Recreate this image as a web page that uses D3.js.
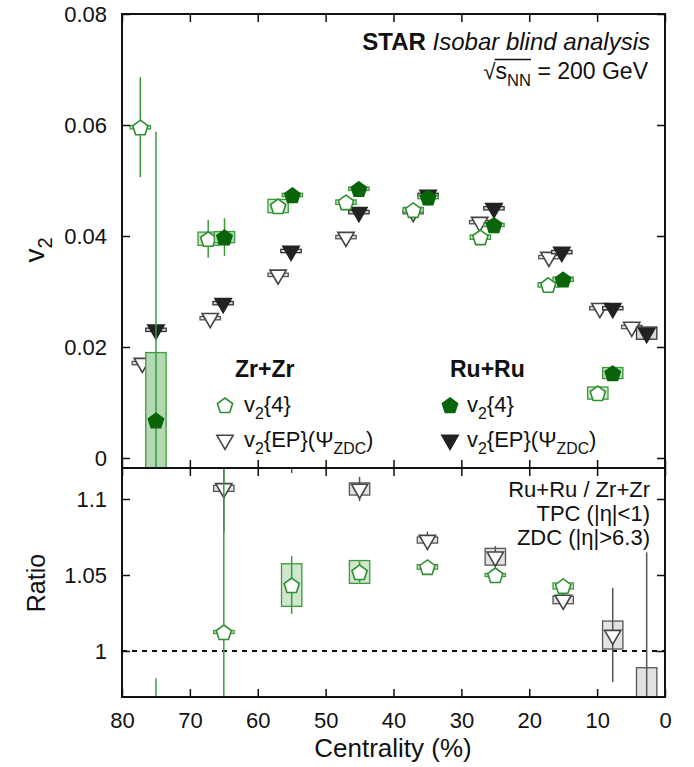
<!DOCTYPE html>
<html>
<head>
<meta charset="utf-8">
<script src="https://cdn.jsdelivr.net/npm/d3@7"></script>
<style>
  body { margin: 0; background: #fff; }
  text { font-family: "Liberation Sans", Arial, sans-serif; fill: #111; }
</style>
</head>
<body>
<div id="chart"></div>
<script>
// ---- data ----
// Zr+Zr v2{4}
const zrV4Cent = [77.3, 67.3, 57.0, 47.0, 37.1, 27.2, 17.2, 9.9];
const zrV4Val  = [0.0596, 0.0395, 0.0454, 0.0461, 0.0447, 0.0398, 0.0312, 0.0117];
const zrV4Stat = [0.0090, 0.0034, 0.0005, 0.0004, 0.0003, 0.0003, 0.0003, 0.0003];
const zrV4Sys  = [0.0003, 0.0012, 0.0012, 0.0004, 0.0004, 0.0004, 0.0004, 0.0011];
// Ru+Ru v2{4}
const ruV4Cent = [75.0, 64.9, 54.9, 45.1, 34.9, 25.2, 15.0, 7.7];
const ruV4Val  = [0.0068, 0.0398, 0.0474, 0.0485, 0.0470, 0.0420, 0.0322, 0.0153];
const ruV4Stat = [0.0520, 0.0034, 0.0004, 0.0003, 0.0003, 0.0003, 0.0003, 0.0003];
const ruV4Sys  = [0.0122, 0.0010, 0.0003, 0.0003, 0.0003, 0.0003, 0.0004, 0.0010];
// Zr+Zr v2{EP}(Psi_ZDC)
const zrEPCent = [77.0, 67.0, 57.0, 47.0, 37.1, 27.3, 17.1, 9.6, 4.9];
const zrEPVal  = [0.0171, 0.0252, 0.0330, 0.0398, 0.0443, 0.0425, 0.0362, 0.0270, 0.0236];
const zrEPStat = [0.0002, 0.0002, 0.0002, 0.0002, 0.0002, 0.0003, 0.0003, 0.0003, 0.0006];
const zrEPSys  = [0.0003, 0.0003, 0.0003, 0.0003, 0.0003, 0.0003, 0.0003, 0.0003, 0.0003];
// Ru+Ru v2{EP}(Psi_ZDC)
const ruEPCent = [75.0, 65.1, 55.1, 45.1, 34.9, 25.2, 15.2, 7.7, 2.7];
const ruEPVal  = [0.0231, 0.0279, 0.0373, 0.0443, 0.0474, 0.0450, 0.0371, 0.0270, 0.0225];
const ruEPStat = [0.0002, 0.0002, 0.0002, 0.0002, 0.0002, 0.0003, 0.0003, 0.0003, 0.0004];
const ruEPSys  = [0.0003, 0.0003, 0.0003, 0.0003, 0.0003, 0.0003, 0.0003, 0.0003, 0.0011];
// ratio Ru+Ru / Zr+Zr
const ratV4Cent = [75, 65, 55, 45, 35, 25, 15];
const ratV4Val  = [0.114, 1.0125, 1.0434, 1.052, 1.0553, 1.050, 1.0428];
const ratV4Stat = [0.868, 0.20, 0.019, 0.007, 0.003, 0.002, 0.002];
const ratV4Sys  = [0.0, 0.001, 0.014, 0.0075, 0.0015, 0.001, 0.002];
const ratEPCent = [75, 65, 55, 45, 35, 25, 15, 7.7, 2.7];
const ratEPVal  = [1.35, 1.107, 1.13, 1.1066, 1.073, 1.062, 1.0336, 1.0105, 0.955];
const ratEPStat = [0.05, 0.029, 0.013, 0.008, 0.0055, 0.007, 0.006, 0.031, 0.11];
const ratEPSys  = [0.002, 0.002, 0.002, 0.004, 0.002, 0.0055, 0.0025, 0.0092, 0.034];

// axes
const xTicks = [80, 70, 60, 50, 40, 30, 20, 10, 0];
const topTicks = [0, 0.02, 0.04, 0.06, 0.08];
const topTickLabels = ["0", "0.02", "0.04", "0.06", "0.08"];
const botTicks = [1, 1.05, 1.1];
const botTickLabels = ["1", "1.05", "1.1"];

const W = 694, H = 767;
const L = 122, R = 665, T = 14, MID = 468, B = 697;
const BOXW = 1.5; // half-width of systematic boxes, in % centrality

const svg = d3.select("#chart").append("svg")
    .attr("width", W).attr("height", H);

const x = d3.scaleLinear().domain([80, 0]).range([L, R]);
const yTop = d3.scaleLinear().domain([0, 0.08]).range([458, T]);
const yBot = d3.scaleLinear().domain([1, 1.1]).range([651, 499]);

// clip paths for the two panels
const defs = svg.append("defs");
defs.append("clipPath").attr("id", "clipTop")
    .append("rect").attr("x", L).attr("y", T).attr("width", R - L).attr("height", MID - T);
defs.append("clipPath").attr("id", "clipBot")
    .append("rect").attr("x", L).attr("y", MID).attr("width", R - L).attr("height", B - MID);

// marker shapes
function pentagon(r) {
    const pts = d3.range(5).map(k => {
        const a = -Math.PI / 2 + k * 2 * Math.PI / 5;
        return [r * Math.cos(a), r * Math.sin(a) + 1];
    });
    return "M" + pts.map(p => p.join(",")).join("L") + "Z";
}
const triDown = d3.symbol().type(d3.symbolTriangle).size(115)();

const styles = {
    zrV4: { shape: "pent", fill: "#fff", stroke: "#2f8f2f", bar: "#3d9a3d", boxFill: "#cfe6cf", boxStroke: "#3d9a3d" },
    ruV4: { shape: "pent", fill: "#0a640a", stroke: "#0a640a", bar: "#3d9a3d", boxFill: "#b3d9b3", boxStroke: "#3d9a3d" },
    zrEP: { shape: "tri", fill: "#fff", stroke: "#444", bar: "#555", boxFill: "#e2e2e2", boxStroke: "#555" },
    ruEP: { shape: "tri", fill: "#222", stroke: "#222", bar: "#333", boxFill: "#d8d8d8", boxStroke: "#333" }
};

function marker(g, st, cx, cy) {
    if (st.shape === "pent") {
        g.append("path").attr("d", pentagon(8))
            .attr("transform", `translate(${cx},${cy})`)
            .attr("fill", st.fill).attr("stroke", st.stroke).attr("stroke-width", 1.6);
    } else {
        g.append("path").attr("d", triDown)
            .attr("transform", `translate(${cx},${cy}) rotate(180)`)
            .attr("fill", st.fill).attr("stroke", st.stroke).attr("stroke-width", 1.6);
    }
}

function drawSeries(layer, cent, val, stat, sys, y, st) {
    const g = layer.append("g");
    cent.forEach((c, i) => {
        const s = sys[i];
        if (s > 0) {
            g.append("rect")
                .attr("x", x(c + BOXW)).attr("width", x(c - BOXW) - x(c + BOXW))
                .attr("y", y(val[i] + s)).attr("height", Math.max(y(val[i] - s) - y(val[i] + s), 1))
                .attr("fill", st.boxFill).attr("stroke", st.boxStroke).attr("stroke-width", 1.3);
        }
        g.append("line")
            .attr("x1", x(c)).attr("x2", x(c))
            .attr("y1", y(val[i] - stat[i])).attr("y2", y(val[i] + stat[i]))
            .attr("stroke", st.bar).attr("stroke-width", 1.5);
    });
    cent.forEach((c, i) => marker(g, st, x(c), y(val[i])));
}

// ---- top panel ----
const topLayer = svg.append("g").attr("clip-path", "url(#clipTop)");
drawSeries(topLayer, zrEPCent, zrEPVal, zrEPStat, zrEPSys, yTop, styles.zrEP);
drawSeries(topLayer, ruEPCent, ruEPVal, ruEPStat, ruEPSys, yTop, styles.ruEP);
drawSeries(topLayer, zrV4Cent, zrV4Val, zrV4Stat, zrV4Sys, yTop, styles.zrV4);
drawSeries(topLayer, ruV4Cent, ruV4Val, ruV4Stat, ruV4Sys, yTop, styles.ruV4);

// ---- bottom panel ----
const botLayer = svg.append("g").attr("clip-path", "url(#clipBot)");
botLayer.append("line")
    .attr("x1", L).attr("x2", R).attr("y1", yBot(1)).attr("y2", yBot(1))
    .attr("stroke", "#111").attr("stroke-width", 2).attr("stroke-dasharray", "5,5");
drawSeries(botLayer, ratEPCent, ratEPVal, ratEPStat, ratEPSys, yBot, styles.zrEP);
drawSeries(botLayer, ratV4Cent, ratV4Val, ratV4Stat, ratV4Sys, yBot, styles.zrV4);

// ---- axes ----
function ticksOnly(axis) {
    return g => {
        g.call(axis);
        g.select(".domain").remove();
        g.selectAll(".tick line").attr("stroke", "#111").attr("stroke-width", 1.5);
    };
}
function styleLabels(g) {
    g.selectAll(".tick text").style("font-size", "22px").attr("fill", "#111");
}

svg.append("g").attr("transform", `translate(${L},0)`)
    .call(ticksOnly(d3.axisLeft(yTop).tickValues(topTicks).tickSize(-8).tickPadding(15)
        .tickFormat((d, i) => topTickLabels[i])))
    .call(styleLabels);
svg.append("g").attr("transform", `translate(${R},0)`)
    .call(ticksOnly(d3.axisRight(yTop).tickValues(topTicks).tickSize(-8).tickFormat("")));
svg.append("g").attr("transform", `translate(0,${T})`)
    .call(ticksOnly(d3.axisTop(x).tickValues(xTicks).tickSize(-8).tickFormat("")));
svg.append("g").attr("transform", `translate(0,${MID})`)
    .call(ticksOnly(d3.axisBottom(x).tickValues(xTicks).tickSize(-8).tickFormat("")));
svg.append("g").attr("transform", `translate(0,${MID})`)
    .call(ticksOnly(d3.axisTop(x).tickValues(xTicks).tickSize(-8).tickFormat("")));

svg.append("g").attr("transform", `translate(${L},0)`)
    .call(ticksOnly(d3.axisLeft(yBot).tickValues(botTicks).tickSize(-8).tickPadding(15)
        .tickFormat((d, i) => botTickLabels[i])))
    .call(styleLabels);
svg.append("g").attr("transform", `translate(${R},0)`)
    .call(ticksOnly(d3.axisRight(yBot).tickValues(botTicks).tickSize(-8).tickFormat("")));
svg.append("g").attr("transform", `translate(0,${B})`)
    .call(ticksOnly(d3.axisBottom(x).tickValues(xTicks).tickSize(-8).tickPadding(15)
        .tickFormat(d => d)))
    .call(styleLabels);

// frames
svg.append("rect").attr("x", L).attr("y", T).attr("width", R - L).attr("height", B - T)
    .attr("fill", "none").attr("stroke", "#111").attr("stroke-width", 2);
svg.append("line").attr("x1", L).attr("x2", R).attr("y1", MID).attr("y2", MID)
    .attr("stroke", "#111").attr("stroke-width", 2);

// ---- text ----
function subText(parent, parts, size) {
    // parts: [text, "sub"|"norm"]
    parts.forEach(([t, kind], i) => {
        const prev = i > 0 ? parts[i - 1][1] : "norm";
        let dy = 0;
        if (kind === "sub" && prev !== "sub") dy = size * 0.3;
        if (kind !== "sub" && prev === "sub") dy = -size * 0.3;
        parent.append("tspan").text(t)
            .attr("dy", dy)
            .style("font-size", (kind === "sub" ? size * 0.72 : size) + "px");
    });
}

svg.append("text").attr("x", 44).attr("y", 250).attr("transform", "rotate(-90,44,250)")
    .attr("text-anchor", "middle").call(t => subText(t, [["v", "norm"], ["2", "sub"]], 28));
svg.append("text").attr("x", 45).attr("y", 583).attr("transform", "rotate(-90,45,583)")
    .attr("text-anchor", "middle").style("font-size", "25px").text("Ratio");
svg.append("text").attr("x", 393).attr("y", 757).attr("text-anchor", "middle")
    .style("font-size", "26px").text("Centrality (%)");

const title = svg.append("text").attr("x", 650).attr("y", 50).attr("text-anchor", "end")
    .style("font-size", "24px");
title.append("tspan").text("STAR ").style("font-weight", "bold");
title.append("tspan").text("Isobar blind analysis").style("font-style", "italic");

const energy = svg.append("text").attr("x", 648).attr("y", 79).attr("text-anchor", "end");
energy.append("tspan").text("√").style("font-size", "22px");
subText(energy, [["s", "norm"], ["NN", "sub"], [" = 200 GeV", "norm"]], 23);

// overline of the square root, spanning s_NN
const eSpans = energy.selectAll("tspan").nodes();
const ovX1 = eSpans[0].getStartPositionOfChar(0).x + eSpans[0].getComputedTextLength() - 1;
const ovX2 = eSpans[2].getStartPositionOfChar(0).x + eSpans[2].getComputedTextLength();
svg.append("line").attr("x1", ovX1).attr("x2", ovX2).attr("y1", 79 - 19.5).attr("y2", 79 - 19.5)
    .attr("stroke", "#111").attr("stroke-width", 1.3);

// legend
svg.append("text").attr("x", 235).attr("y", 377).style("font-size", "23px")
    .style("font-weight", "bold").text("Zr+Zr");
svg.append("text").attr("x", 450).attr("y", 377).style("font-size", "23px")
    .style("font-weight", "bold").text("Ru+Ru");

const legendRows = [
    { x: 225, y: 405, tx: 244, ty: 412, st: styles.zrV4, label: [["v", "norm"], ["2", "sub"], ["{4}", "norm"]] },
    { x: 225, y: 440, tx: 244, ty: 447, st: styles.zrEP, label: [["v", "norm"], ["2", "sub"], ["{EP}(Ψ", "norm"], ["ZDC", "sub"], [")", "norm"]] },
    { x: 450, y: 405, tx: 467, ty: 412, st: styles.ruV4, label: [["v", "norm"], ["2", "sub"], ["{4}", "norm"]] },
    { x: 450, y: 440, tx: 467, ty: 447, st: styles.ruEP, label: [["v", "norm"], ["2", "sub"], ["{EP}(Ψ", "norm"], ["ZDC", "sub"], [")", "norm"]] }
];
const leg = svg.append("g");
legendRows.forEach(r => {
    marker(leg, r.st, r.x, r.y);
    leg.append("text").attr("x", r.tx).attr("y", r.ty).call(t => subText(t, r.label, 22));
});

// ratio panel annotation
const ann = ["Ru+Ru / Zr+Zr", "TPC (|η|<1)", "ZDC (|η|>6.3)"];
const annY = [497, 521, 545];
ann.forEach((s, i) => {
    svg.append("text").attr("x", 650).attr("y", annY[i]).attr("text-anchor", "end")
        .style("font-size", "22px").text(s);
});
</script>
</body>
</html>
